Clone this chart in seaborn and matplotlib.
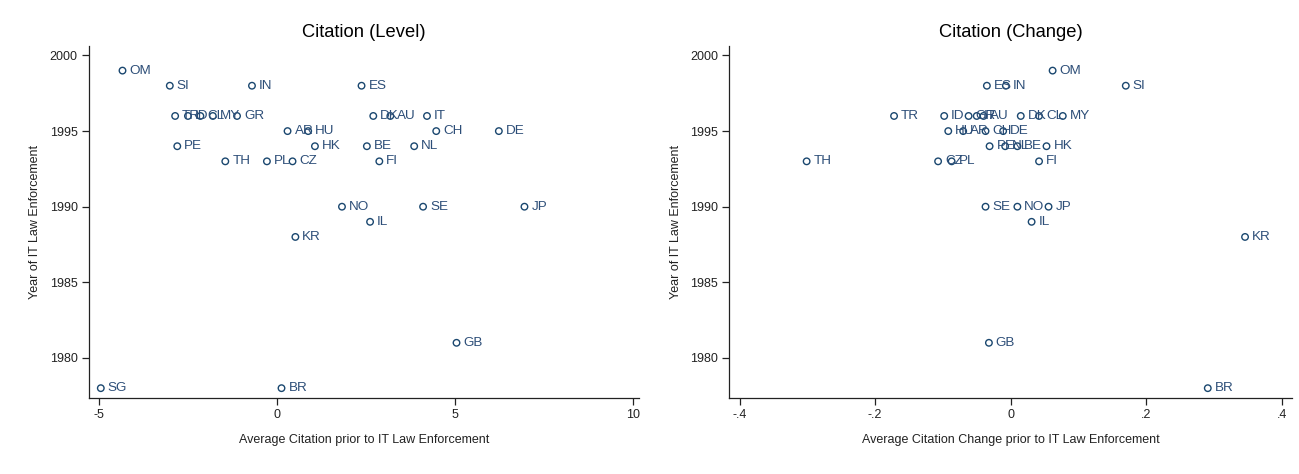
import numpy as np
import pandas as pd
import matplotlib
matplotlib.use("Agg")
import matplotlib.pyplot as plt
import seaborn as sns

# Countries, enforcement year and citation measures
level_codes = ["OM", "SI", "IN", "ES",
               "TR", "ID", "CL", "MY", "GR", "DK", "AU", "IT",
               "AR", "HU", "CH", "DE",
               "PE", "HK", "BE", "NL",
               "TH", "PL", "CZ", "FI",
               "NO", "SE", "JP", "IL", "KR", "GB", "SG", "BR"]
level_year = [1999, 1998, 1998, 1998,
              1996, 1996, 1996, 1996, 1996, 1996, 1996, 1996,
              1995, 1995, 1995, 1995,
              1994, 1994, 1994, 1994,
              1993, 1993, 1993, 1993,
              1990, 1990, 1990, 1989, 1988, 1981, 1978, 1978]
level_value = [-4.34, -3.01, -0.70, 2.38,
               -2.86, -2.50, -2.15, -1.80, -1.12, 2.71, 3.19, 4.22,
               0.30, 0.88, 4.48, 6.24,
               -2.80, 1.07, 2.53, 3.86,
               -1.45, -0.28, 0.44, 2.88,
               1.83, 4.11, 6.96, 2.62, 0.52, 5.05, -4.95, 0.13]

change_codes = ["OM", "ES", "IN", "SI",
                "TR", "ID", "GR", "IT", "AU", "DK", "CL", "MY",
                "HU", "AR", "CH", "DE",
                "PE", "NL", "BE", "HK",
                "TH", "CZ", "PL", "FI",
                "SE", "NO", "JP", "IL", "KR", "GB", "BR"]
change_year = [1999, 1998, 1998, 1998,
               1996, 1996, 1996, 1996, 1996, 1996, 1996, 1996,
               1995, 1995, 1995, 1995,
               1994, 1994, 1994, 1994,
               1993, 1993, 1993, 1993,
               1990, 1990, 1990, 1989, 1988, 1981, 1978]
change_value = [0.062, -0.035, -0.007, 0.170,
                -0.172, -0.098, -0.062, -0.050, -0.040, 0.015, 0.042, 0.077,
                -0.092, -0.070, -0.037, -0.011,
                -0.031, -0.008, 0.010, 0.053,
                -0.301, -0.107, -0.087, 0.042,
                -0.037, 0.010, 0.056, 0.031, 0.346, -0.032, 0.291]

level_ticks = [-5, 0, 5, 10]
change_ticks = [-0.4, -0.2, 0.0, 0.2, 0.4]
change_ticklabels = ["-.4", "-.2", "0", ".2", ".4"]
year_ticks = [1980, 1985, 1990, 1995, 2000]

level_df = pd.DataFrame({"code": level_codes, "year": level_year, "value": level_value})
change_df = pd.DataFrame({"code": change_codes, "year": change_year, "value": change_value})

sns.set_theme(style="ticks")
plt.rcParams["font.family"] = ["Liberation Sans", "DejaVu Sans"]

MARK = "#1a476f"
LABEL = "#2d4e78"
W, H = 1299, 474

fig = plt.figure(figsize=(W / 100, H / 100), dpi=100)
fig.patch.set_facecolor("white")


def px_axes(x0, x1, y0, y1):
    return fig.add_axes([x0 / W, 1 - y1 / H, (x1 - x0) / W, (y1 - y0) / H])


def draw_panel(ax, df, title, xlabel, xlim, xticks, xticklabels):
    sns.scatterplot(data=df, x="value", y="year", ax=ax, marker="o", s=22,
                    facecolor="none", edgecolor=MARK, linewidth=1.0, legend=False)
    for _, r in df.iterrows():
        ax.annotate(r["code"], (r["value"], r["year"]), xytext=(5, 0),
                    textcoords="offset points", va="center", ha="left",
                    fontsize=9.7, color=LABEL)
    ax.set_xlim(*xlim)
    ax.set_ylim(1977.35, 2000.66)
    ax.set_xticks(xticks)
    ax.set_xticklabels(xticklabels)
    ax.set_yticks(year_ticks)
    ax.set_yticklabels([str(t) for t in year_ticks])
    ax.set_title(title, fontsize=13.2, color="black", pad=6)
    ax.set_xlabel(xlabel, fontsize=9, color="#222222", labelpad=9)
    ax.set_ylabel("Year of IT Law Enforcement", fontsize=9, color="#222222", labelpad=6)
    ax.tick_params(axis="both", direction="out", length=5, width=0.9,
                   labelsize=9, colors="#222222", pad=3)
    for side in ("top", "right"):
        ax.spines[side].set_visible(False)
    for side in ("left", "bottom"):
        ax.spines[side].set_linewidth(0.9)
        ax.spines[side].set_color("#222222")
    ax.set_facecolor("white")


ax1 = px_axes(88.7, 639, 45.5, 398)
draw_panel(ax1, level_df, "Citation (Level)",
           "Average Citation prior to IT Law Enforcement",
           (-5.29, 10.18), level_ticks, [str(t) for t in level_ticks])

ax2 = px_axes(729.4, 1291.8, 45.5, 398)
draw_panel(ax2, change_df, "Citation (Change)",
           "Average Citation Change prior to IT Law Enforcement",
           (-0.415, 0.415), change_ticks, change_ticklabels)

fig.savefig("out.png", dpi=100, facecolor="white")
